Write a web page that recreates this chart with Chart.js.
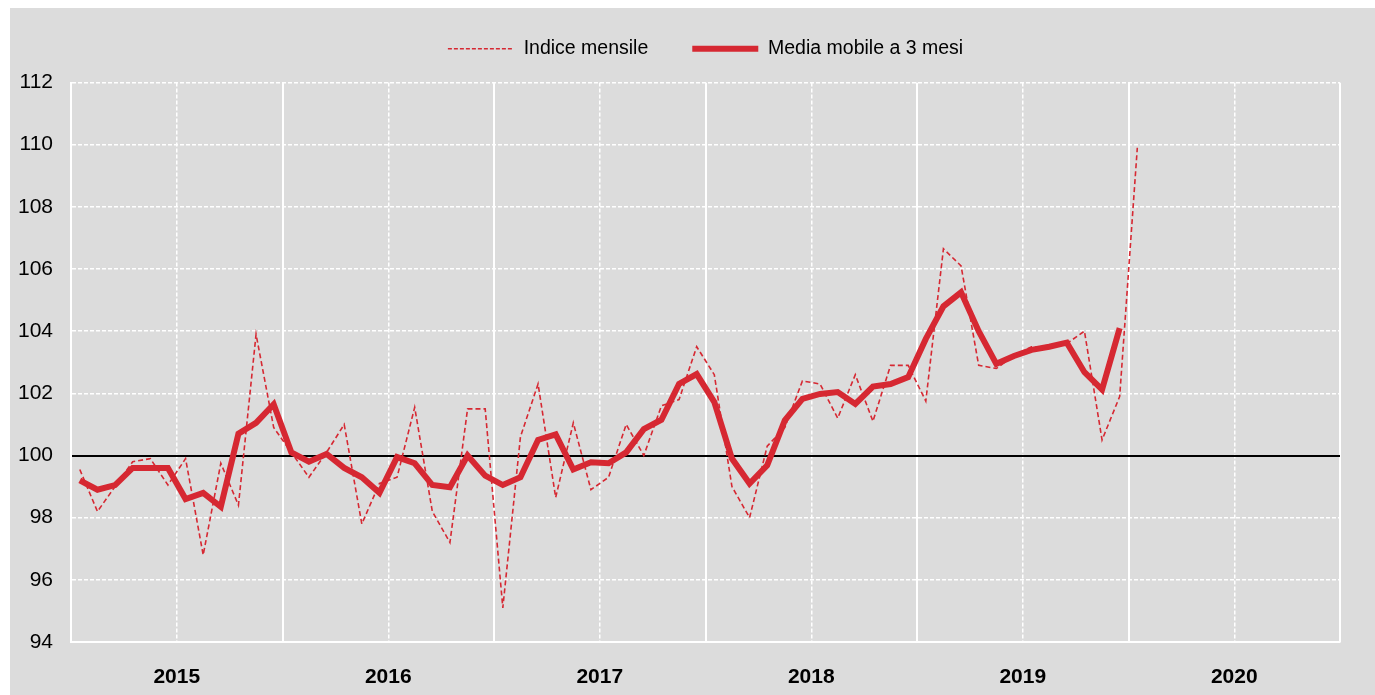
<!DOCTYPE html>
<html lang="it">
<head>
  <meta charset="UTF-8" />
  <title>Indice mensile e media mobile</title>
  <script src="https://cdn.jsdelivr.net/npm/chart.js"></script>
  <style>
    * { margin: 0; padding: 0; box-sizing: border-box; }
    body { background: #fff; width: 1375px; height: 695px; overflow: hidden; }
    .frame {
      position: absolute;
      left: 10px;
      top: 8px;
      width: 1365px;
      height: 687px;
      background: #dcdcdc;
    }
  </style>
</head>
<body>
  <div class="frame">
    <canvas id="chart" width="1365" height="687"></canvas>
  </div>

  <script>
    // categories
    const years = ['2015', '2016', '2017', '2018', '2019', '2020'];
    const yTicks = [94, 96, 98, 100, 102, 104, 106, 108, 110, 112];

    // monthly index, Jan 2015 .. Jan 2020
    const indiceMensile = [
      99.55, 98.2, 99.0, 99.8, 99.9, 99.05, 99.9, 96.8, 99.75, 98.4, 103.9, 100.9,
      100.1, 99.3, 100.1, 101.0, 97.8, 99.1, 99.3, 101.55, 98.2, 97.2, 101.5, 101.5,
      95.1, 100.6, 102.3, 98.65, 101.05, 98.9, 99.3, 101.0, 100.0, 101.6, 101.8, 103.5,
      102.6, 99.0, 98.0, 100.3, 100.9, 102.4, 102.3, 101.2, 102.6, 101.1, 102.9, 102.9,
      101.75, 106.65, 106.1, 102.9, 102.8, 103.2, 103.5, 103.45, 103.6, 104.0, 100.5, 101.9,
      109.9
    ];

    // 3-month moving average, Jan 2015 .. Dec 2019
    const mediaMobile = [
      99.2, 98.9, 99.05, 99.6, 99.6, 99.6, 98.6, 98.8, 98.35, 100.7, 101.05, 101.65,
      100.1, 99.8, 100.05, 99.6, 99.3, 98.8, 99.95, 99.75, 99.05, 98.98, 100.0, 99.35,
      99.05, 99.3, 100.5, 100.68, 99.55, 99.78, 99.75, 100.1, 100.85, 101.15, 102.3, 102.62,
      101.72, 99.9, 99.1, 99.68, 101.13, 101.82, 101.98, 102.04, 101.66, 102.22, 102.3, 102.52,
      103.75, 104.8, 105.25, 104.0, 102.95, 103.2, 103.4, 103.5, 103.63, 102.68, 102.12, 104.1
    ];

    const red = '#d62832';
    const font = "'Liberation Sans', Arial, sans-serif";
    const months = years.length * 12;

    // each month sits in the middle of its slot
    function toPoints(arr) {
      return arr.map((v, i) => ({ x: i + 0.5, y: v }));
    }

    const ctx = document.getElementById('chart').getContext('2d');

    new Chart(ctx, {
      type: 'line',
      data: {
        datasets: [{
          label: 'Indice mensile',
          data: toPoints(indiceMensile),
          borderColor: red,
          backgroundColor: red,
          borderWidth: 1.6,
          borderDash: [5, 3],
          pointRadius: 0,
          tension: 0
        }, {
          label: 'Media mobile a 3 mesi',
          data: toPoints(mediaMobile),
          borderColor: red,
          backgroundColor: red,
          borderWidth: 6,
          pointRadius: 0,
          tension: 0
        }]
      },
      options: {
        responsive: false,
        animation: false,
        layout: { padding: { left: 0, right: 35, top: -13, bottom: 0 } },
        plugins: {
          tooltip: { enabled: false },
          legend: {
            position: 'top',
            fullSize: false,
            labels: {
              usePointStyle: true,
              pointStyle: 'line',
              pointStyleWidth: 66,
              color: '#000',
              padding: 44,
              font: { family: font, size: 19.5 },
              generateLabels: chart => {
                const items = Chart.defaults.plugins.legend.labels.generateLabels(chart);
                items.forEach(it => {
                  const ds = chart.data.datasets[it.datasetIndex];
                  it.lineDash = ds.borderDash ? [4, 2] : [];
                  it.lineWidth = ds.borderWidth;
                });
                return items;
              }
            }
          }
        },
        scales: {
          x: {
            type: 'linear',
            min: 0,
            max: months,
            afterBuildTicks: s => { s.ticks = []; for (let v = 0; v <= months; v += 6) s.ticks.push({ value: v }); },
            afterFit: s => { s.height = 53; },
            ticks: {
              autoSkip: false,
              maxRotation: 0,
              padding: 23,
              color: '#000',
              font: { family: font, size: 21, weight: 'bold' },
              callback: v => (v % 12 === 6 ? years[(v - 6) / 12] : '')
            },
            grid: { color: '#fff', lineWidth: 1.5, drawTicks: false },
            border: { display: true, color: '#fff', width: 2, dash: [4, 2] }
          },
          xYears: {
            type: 'linear',
            position: 'top',
            min: 0,
            max: months,
            afterBuildTicks: s => { s.ticks = []; for (let v = 0; v <= months; v += 12) s.ticks.push({ value: v }); },
            afterFit: s => { s.height = 14; },
            ticks: { display: false },
            grid: { color: '#fff', lineWidth: 2, drawTicks: false },
            border: { display: false }
          },
          y: {
            min: 94,
            max: 112,
            afterBuildTicks: s => { s.ticks = yTicks.map(v => ({ value: v })); },
            afterFit: s => { s.width = 61; },
            ticks: {
              padding: 18,
              color: '#000',
              font: { family: font, size: 21 }
            },
            grid: { color: '#fff', lineWidth: 1.5, drawTicks: false },
            border: { display: true, color: '#fff', width: 2, dash: [4, 2] }
          },
          yRef: {
            position: 'right',
            min: 94,
            max: 112,
            afterBuildTicks: s => { s.ticks = [{ value: 100 }]; },
            afterFit: s => { s.width = 0; },
            ticks: { display: false },
            grid: { color: '#000', lineWidth: 2, drawTicks: false },
            border: { display: false }
          }
        }
      }
    });
  </script>
</body>
</html>
